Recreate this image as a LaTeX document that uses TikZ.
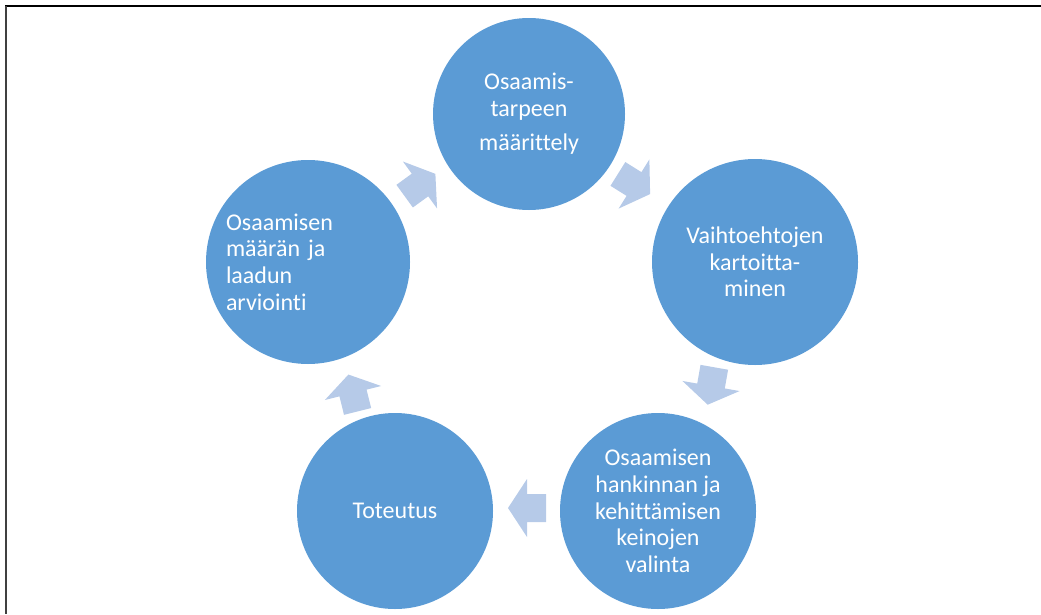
\documentclass[tikz,border=0pt]{standalone}
\usepackage{fontspec}
\setmainfont[Ligatures=NoCommon]{Carlito}
\definecolor{circfill}{RGB}{91,155,213}
\definecolor{arrfill}{RGB}{182,202,232}
\begin{document}
\begin{tikzpicture}[x=0.75pt,y=-0.75pt,
  stage/.style={circle, fill=circfill, text=white, inner sep=0pt, align=center,
    font=\fontsize{18}{20}\selectfont},
  flowarrow/.pic={\fill[arrfill] (-19,-14) -- (0,-14) -- (0,-29) -- (19,0)
    -- (0,29) -- (0,14) -- (-19,14) -- cycle;}]
\useasboundingbox (0,0) rectangle (1041,614);
% page frame (top and left edges)
\draw[line width=1.5pt] (5,6) -- (1041,6);
\draw[line width=1.5pt, black!75] (6,6) -- (6,614);

% cycle stages
\node[stage, minimum size=144pt] (need) at (529,114)
  {Osaamis-\\tarpeen\\[6pt]määrittely};
\node[stage, minimum size=154.5pt] (options) at (755,262)
  {Vaihtoehtojen\\kartoitta-\\minen};
\node[stage, minimum size=147pt] (choice) at (658,511)
  {Osaamisen\\hankinnan ja\\kehittämisen\\keinojen\\valinta};
\node[stage, minimum size=147pt] (impl) at (395,511) {Toteutus};
\node[stage, minimum size=153pt, align=left, text width=123pt] (eval) at (308,262)
  {Osaamisen\\määrän ja\\laadun\\arviointi};

% block arrows between stages
\pic[rotate=-32] at (634,184) {flowarrow};
\pic[rotate=-100] at (711,386) {flowarrow};
\pic[rotate=180] at (527,508) {flowarrow};
\pic[rotate=104] at (353,393) {flowarrow};
\pic[rotate=36] at (420,185) {flowarrow};
\end{tikzpicture}
\end{document}
